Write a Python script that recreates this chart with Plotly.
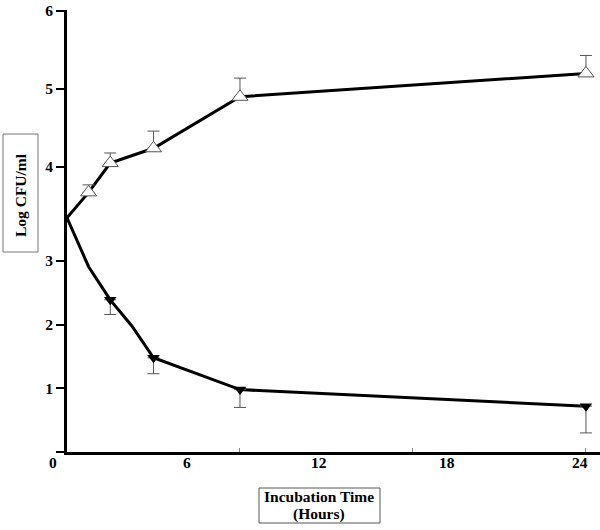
import numpy as np
import plotly.graph_objects as go

# growth curve (open triangles)
up_hours = [0, 1, 2, 4, 8, 24]
up_log = [3.46, 3.73, 4.05, 4.24, 4.90, 5.20]
up_err = [0, 0.08, 0.13, 0.22, 0.24, 0.23]
up_marked = [False, True, True, True, True, True]

# kill curve (filled triangles)
down_hours = [0, 1, 2, 3, 4, 8, 24]
down_log = [3.46, 2.91, 2.39, 1.98, 1.48, 0.98, 0.72]
down_err = [0, 0, 0.23, 0, 0.25, 0.28, 0.42]
down_marked = [False, False, True, False, True, True, True]

y_ticks = [0, 1, 2, 3, 4, 5, 6]
y_tick_text = ['', '1', '2', '3', '4', '5', '6']  # the lone "0" sits under the corner
x_tick_marks = [8, 16, 24]
x_tick_labels = ['0', '6', '12', '18', '24']
x_label_hours = [-0.65, 5.55, 11.65, 17.57, 23.72]

X_MAX = 24.65

# the original y axis is drawn in segments with different spacing
Y_KNOTS = [0, 3, 4, 6]
Y_SPAN = [0, 191, 285, 441]

def ymap(v):
    return np.interp(v, Y_KNOTS, Y_SPAN)

def pick(vals, mask):
    return [v for v, m in zip(vals, mask) if m]

FONT = dict(family='Liberation Serif', size=15.5, color='black', weight='bold')

W, H = 600, 530
L, T, B = 67, 10, 78
PW, PH = W - L, H - T - B
Y_TOP = 442

def px(x):
    return (x - L) / PW

def py(y):
    return (H - B - y) / PH

fig = go.Figure()

fig.add_trace(go.Scatter(x=up_hours, y=ymap(up_log), mode='lines',
                         line=dict(color='black', width=3), hoverinfo='skip'))
fig.add_trace(go.Scatter(x=down_hours, y=ymap(down_log), mode='lines',
                         line=dict(color='black', width=3), hoverinfo='skip'))

uh, uv, ue = pick(up_hours, up_marked), pick(up_log, up_marked), pick(up_err, up_marked)
up_plus = [float(ymap(v + e) - ymap(v)) for v, e in zip(uv, ue)]
fig.add_trace(go.Scatter(
    x=uh, y=ymap(uv), mode='markers', cliponaxis=False,
    marker=dict(symbol='triangle-up', size=14, color='white',
                line=dict(color='#555555', width=1)),
    error_y=dict(type='data', symmetric=False, array=up_plus,
                 arrayminus=[0] * len(uv), color='#555555', thickness=1, width=6)))

dh, dv, de = pick(down_hours, down_marked), pick(down_log, down_marked), pick(down_err, down_marked)
down_minus = [float(ymap(v) - ymap(v - e)) for v, e in zip(dv, de)]
fig.add_trace(go.Scatter(
    x=dh, y=ymap(dv), mode='markers', cliponaxis=False,
    marker=dict(symbol='triangle-down', size=11, color='black'),
    error_y=dict(type='data', symmetric=False, array=[0] * len(dv),
                 arrayminus=down_minus, color='#555555', thickness=1, width=6)))

annotations = []
for h, t in zip(x_label_hours, x_tick_labels):
    annotations.append(dict(x=h / X_MAX, y=py(463), xref='paper', yref='paper', text=t,
                            showarrow=False, font=FONT, xanchor='center', yanchor='middle'))

annotations.append(dict(
    x=px(21), y=py(195), xref='paper', yref='paper', xanchor='center', yanchor='middle',
    text='Log CFU/ml', textangle=-90, showarrow=False, font=FONT))
annotations.append(dict(
    x=px(319), y=py(496), xref='paper', yref='paper', xanchor='center', yanchor='middle',
    text='Incubation Time', showarrow=False, font=FONT))
annotations.append(dict(
    x=px(319), y=py(514), xref='paper', yref='paper', xanchor='center', yanchor='middle',
    text='(Hours)', showarrow=False, font=FONT))

shapes = [
    dict(type='rect', xref='paper', yref='paper', layer='below',
         x0=px(3), x1=px(38), y0=py(252), y1=py(134),
         line=dict(color='#777777', width=1)),
    dict(type='rect', xref='paper', yref='paper', layer='below',
         x0=px(259), x1=px(380), y0=py(523), y1=py(488),
         line=dict(color='#555555', width=1)),
]

fig.update_layout(
    width=W, height=H,
    margin=dict(l=L, r=0, t=T, b=B, autoexpand=False),
    paper_bgcolor='white', plot_bgcolor='white',
    showlegend=False,
    annotations=annotations,
    shapes=shapes,
    xaxis=dict(range=[0, X_MAX], showgrid=False, zeroline=False,
               showline=True, linecolor='black', linewidth=3,
               tickvals=x_tick_marks, ticktext=['', '', ''],
               ticks='inside', ticklen=4, tickcolor='#888888', tickwidth=1),
    yaxis=dict(range=[0, Y_TOP], showgrid=False, zeroline=False,
               showline=True, linecolor='black', linewidth=3,
               tickvals=ymap(y_ticks), ticktext=y_tick_text,
               ticks='outside', ticklen=8, tickwidth=2, tickcolor='black',
               tickfont=FONT, ticklabeloverflow='allow'),
)

# drop the default 8px body margin so the figure fills the window
fig.write_html("out.html", config={'displayModeBar': False},
               post_script="document.body.style.margin='0';")
